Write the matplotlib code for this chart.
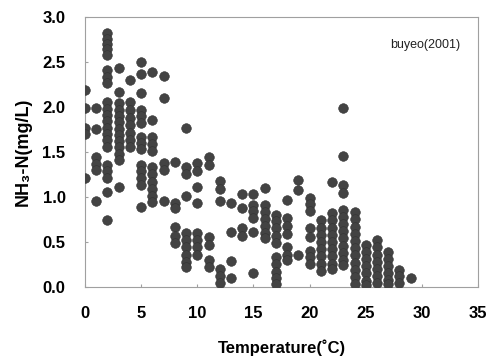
import matplotlib
matplotlib.use("Agg")
import matplotlib.pyplot as plt

plt.rcParams['font.family'] = ['Liberation Sans', 'DejaVu Sans']

# NH3-N readings grouped by water temperature (deg C)
t0 = [2.19, 1.99, 1.77, 1.70, 1.21]
t1 = [1.99, 1.76, 1.44, 1.37, 1.30, 0.95]
t2 = [2.82, 2.76, 2.70, 2.64, 2.58, 2.41, 2.33, 2.27, 2.05, 1.98, 1.91, 1.84,
      1.77, 1.70, 1.63, 1.56, 1.36, 1.29, 1.21, 1.05, 0.74]
t3 = [2.43, 2.17, 2.04, 1.97, 1.90, 1.83, 1.76, 1.69, 1.62, 1.55, 1.48, 1.41, 1.11]
t4 = [2.30, 2.06, 1.97, 1.88, 1.80, 1.71, 1.63, 1.55]
t5 = [2.50, 2.37, 2.16, 1.97, 1.90, 1.82, 1.67, 1.60, 1.53, 1.36, 1.29, 1.21, 1.13, 0.89]
t6 = [2.39, 1.86, 1.67, 1.59, 1.51, 1.33, 1.25, 1.17, 1.09, 1.01, 0.94]
t7 = [2.34, 2.10, 1.38, 1.30, 0.95]
t8 = [1.39, 0.93, 0.88, 0.67, 0.57, 0.49]
t9 = [1.77, 1.33, 1.26, 1.01, 0.60, 0.52, 0.44, 0.36, 0.28, 0.22]
t10 = [1.38, 1.29, 1.11, 0.93, 0.60, 0.52, 0.44, 0.36]
t11 = [1.44, 1.35, 0.55, 0.47, 0.30, 0.22]
t12 = [1.18, 1.09, 0.95, 0.20, 0.12, 0.04]
t13 = [0.93, 0.61, 0.29, 0.10]
t14 = [1.03, 0.88, 0.66, 0.57]
t15 = [1.03, 0.91, 0.84, 0.77, 0.61, 0.16]
t16 = [1.10, 0.91, 0.83, 0.75, 0.68, 0.60, 0.54]
t17 = [0.80, 0.73, 0.65, 0.57, 0.49, 0.33, 0.25, 0.17, 0.10, 0.03]
t18 = [0.97, 0.77, 0.68, 0.59, 0.44, 0.36, 0.30]
t19 = [1.19, 1.08, 0.35]
t20 = [0.99, 0.92, 0.84, 0.65, 0.56, 0.40, 0.33, 0.26]
t21 = [0.74, 0.66, 0.58, 0.50, 0.42, 0.34, 0.26, 0.18]
t22 = [1.17, 0.82, 0.74, 0.66, 0.58, 0.50, 0.42, 0.34, 0.26, 0.20]
t23 = [1.99, 1.46, 1.13, 1.04, 0.86, 0.78, 0.70, 0.62, 0.54, 0.46, 0.38, 0.30, 0.24]
t24 = [0.83, 0.75, 0.67, 0.59, 0.51, 0.43, 0.35, 0.27, 0.19, 0.11, 0.03]
t25 = [0.47, 0.39, 0.31, 0.23, 0.15, 0.07, 0.02]
t26 = [0.52, 0.44, 0.36, 0.28, 0.20, 0.12, 0.04]
t27 = [0.39, 0.31, 0.23, 0.15, 0.08, 0.03]
t28 = [0.19, 0.12, 0.04]
t29 = [0.10]

columns = [t0, t1, t2, t3, t4, t5, t6, t7, t8, t9, t10, t11, t12, t13, t14,
           t15, t16, t17, t18, t19, t20, t21, t22, t23, t24, t25, t26, t27, t28, t29]

temp = []
nh3 = []
for t, vals in enumerate(columns):
    temp += [t] * len(vals)
    nh3 += vals

fig = plt.figure(figsize=(4.97, 3.61), dpi=100)
ax = fig.add_axes([0.171, 0.205, 0.791, 0.748])

ax.scatter(temp, nh3, s=48, color='#434343', edgecolors='#333333', linewidths=0.4, zorder=3)

ax.set_xlim(0, 35)
ax.set_ylim(0, 3.0)
ax.set_xticks(range(0, 36, 5))
ax.set_yticks([0, 0.5, 1.0, 1.5, 2.0, 2.5, 3.0])
ax.set_yticklabels(['0.0', '0.5', '1.0', '1.5', '2.0', '2.5', '3.0'])

for s in ax.spines.values():
    s.set_color('#a0a0a0')
    s.set_linewidth(0.8)

ax.tick_params(direction='in', length=2, color='#a0a0a0', labelsize=12, pad=14)
for lab in ax.get_xticklabels() + ax.get_yticklabels():
    lab.set_fontweight('bold')

ax.set_xlabel('Temperature(˚C)', fontsize=12, fontweight='bold', labelpad=13)
ax.set_ylabel('NH₃-N(mg/L)', fontsize=13, fontweight='bold', labelpad=8)

ax.text(30.3, 2.69, 'buyeo(2001)', fontsize=9, ha='center', va='center', color='#222222')

fig.savefig('out.png', dpi=100)
